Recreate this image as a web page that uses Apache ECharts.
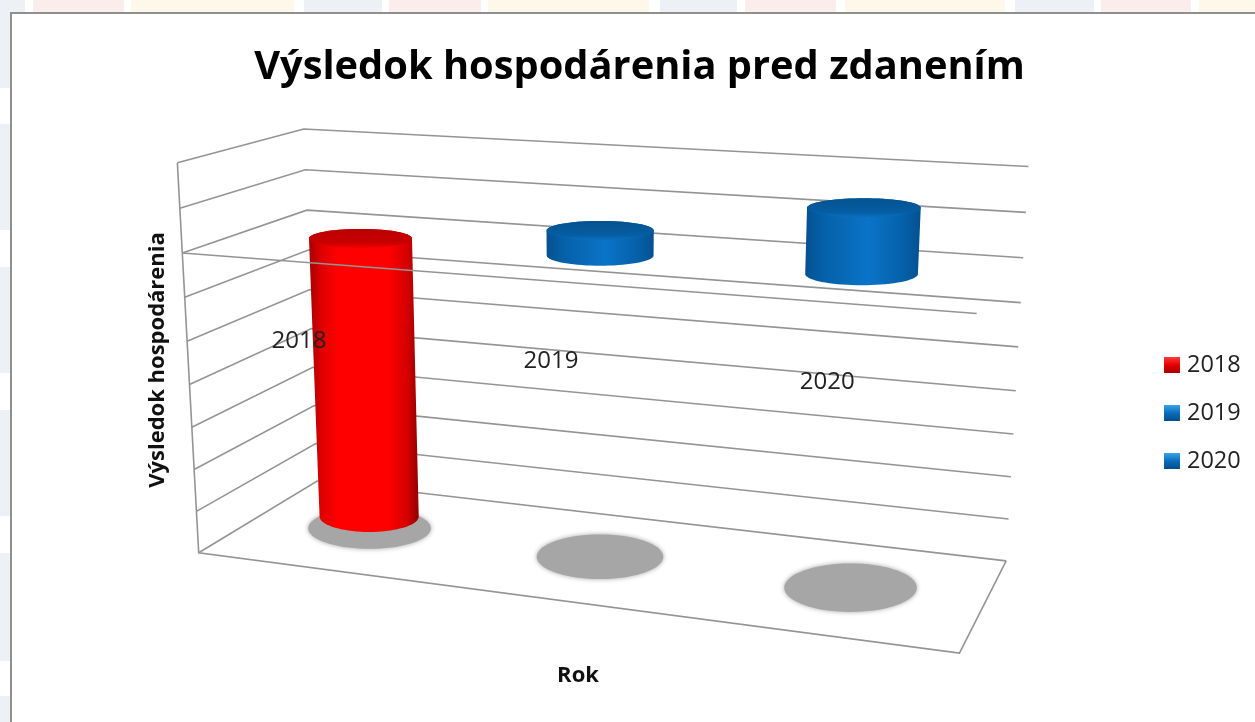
<!DOCTYPE html>
<html><head><meta charset="utf-8">
<style>
html,body{margin:0;padding:0;width:1255px;height:722px;overflow:hidden;background:#fff}
#top{position:absolute;left:0;top:0;width:1255px;height:13px;background:linear-gradient(90deg,#edf1f5 0,#edf1f5 25px,#fff 25px,#fff 33px,#fceded 33px,#fceded 124px,#fff 124px,#fff 131px,#fdf8ea 131px,#fdf8ea 294px,#fff 294px,#fff 304px,#edf1f5 304px,#edf1f5 382px,#fff 382px,#fff 389px,#fceded 389px,#fceded 481px,#fff 481px,#fff 488px,#fdf8ea 488px,#fdf8ea 649px,#fff 649px,#fff 660px,#edf1f5 660px,#edf1f5 737px,#fff 737px,#fff 745px,#fceded 745px,#fceded 836px,#fff 836px,#fff 845px,#fdf8ea 845px,#fdf8ea 1005px,#fff 1005px,#fff 1015px,#edf1f5 1015px,#edf1f5 1094px,#fff 1094px,#fff 1101px,#fceded 1101px,#fceded 1191px,#fff 1191px,#fff 1199px,#fdf8ea 1199px,#fdf8ea 1255px)}
#left{position:absolute;left:0;top:0;width:10px;height:722px;background:linear-gradient(180deg,#edf1f5 0,#edf1f5 88px,#fff 88px,#fff 124px,#edf1f5 124px,#edf1f5 230px,#fff 230px,#fff 267px,#edf1f5 267px,#edf1f5 373px,#fff 373px,#fff 410px,#edf1f5 410px,#edf1f5 516px,#fff 516px,#fff 553px,#edf1f5 553px,#edf1f5 661px,#fff 661px,#fff 696px,#edf1f5 696px,#edf1f5 722px)}
#card{position:absolute;left:10px;top:12px;width:1245px;height:710px;box-sizing:border-box;background:#fff;border-left:2.5px solid #8f8f8f;border-top:2.5px solid #8f8f8f}
#chart{position:absolute;left:0;top:0;width:1255px;height:722px}
</style></head><body>
<div id="top"></div><div id="left"></div><div id="card"></div>
<div id="chart"></div>
<script src="https://cdn.jsdelivr.net/npm/echarts@6/dist/echarts.min.js"></script>
<script>
// ---- data (value unit = one gridline step; the source prints no tick labels)
const categories = ['2018', '2019', '2020'];
const values2018 = [-6.7];
const values2019 = [0.55];
const values2020 = [1.4];
const valueTicks = [-7, -6, -5, -4, -3, -2, -1, 0, 1, 2];
const titleText = 'Výsledok hospodárenia pred zdanením';
const yAxisTitle = 'Výsledok hospodárenia';
const xAxisTitle = 'Rok';

// ---- view: calibration of the Excel-style 3D box. [u, v, w] of the plot cube -> screen pixel.
const calibration = [
  [0,0,1, 177,163],[0,0,7/9, 184,253],[0,0,4/9, 189,384],[0,0,0, 198,553],
  [0,1,1, 303.3,129],[0,1,8/9, 305,170],[0,1,7/9, 306.7,210],[0,1,0, 318,481],
  [1,1,1, 1028.3,166.7],[1,1,8/9, 1026,212.3],[1,1,7/9, 1023.3,257.7],[1,1,6/9, 1020.7,302.7],
  [1,1,5/9, 1018.3,346.7],[1,1,4/9, 1016,390.7],[1,1,3/9, 1013.3,434.3],[1,1,2/9, 1011,476.7],
  [1,1,1/9, 1008.3,519],[1,1,0, 1006,560.7],
  [1,0,7/9, 976.7,313.3],[1,0,0, 959.3,653.3]
];
function makeProjection(pts) {
  const n = 11, S = 1000;
  const M = Array.from({length: n}, () => new Array(n + 1).fill(0));
  const add = (row, rhs) => {
    for (let i = 0; i < n; i++) { for (let j = 0; j < n; j++) M[i][j] += row[i] * row[j]; M[i][n] += row[i] * rhs; }
  };
  for (const [u, v, w, px, py] of pts) {
    const x = px / S, y = py / S;
    add([1, u, v, w, 0, 0, 0, 0, -x * u, -x * v, -x * w], x);
    add([0, 0, 0, 0, 1, u, v, w, -y * u, -y * v, -y * w], y);
  }
  for (let c = 0; c < n; c++) {
    let best = c;
    for (let r = c + 1; r < n; r++) if (Math.abs(M[r][c]) > Math.abs(M[best][c])) best = r;
    [M[c], M[best]] = [M[best], M[c]];
    for (let r = 0; r < n; r++) {
      if (r === c) continue;
      const f = M[r][c] / M[c][c];
      for (let k = c; k <= n; k++) M[r][k] -= f * M[c][k];
    }
  }
  const h = M.map((row, i) => row[n] / row[i]);
  return (u, v, w) => {
    const d = 1 + h[8] * u + h[9] * v + h[10] * w;
    return [S * (h[0] + h[1] * u + h[2] * v + h[3] * w) / d, S * (h[4] + h[5] * u + h[6] * v + h[7] * w) / d];
  };
}
const project = makeProjection(calibration);
const GRID = {left: 197, top: 163, width: 762, height: 394};
const cyl = {ru: 0.067, rv: 0.2, su: 0.082, sv: 0.26};

function norm(api, params, cat, val) {
  const c = api.coord([cat, val]);
  const s = params.coordSys;
  return [(c[0] - s.x) / s.width, (s.y + s.height - c[1]) / s.height];
}
// level ellipse: centre and half-extents come from the projected cube position
function ring(uc, vc, w, ru, rv) {
  const c = project(uc, vc, w);
  const ue = [project(uc + ru, vc, w), project(uc - ru, vc, w)];
  const ve = [project(uc, vc + rv, w), project(uc, vc - rv, w)];
  const a = Math.hypot(ue[0][0] - ue[1][0], ve[0][0] - ve[1][0]) / 2;
  const b = Math.hypot(ue[0][1] - ue[1][1], ve[0][1] - ve[1][1]) / 2;
  const pts = [];
  for (let i = 0; i < 72; i++) {
    const t = i / 72 * Math.PI * 2;
    pts.push([c[0] + a * Math.cos(t), c[1] + b * Math.sin(t)]);
  }
  return pts;
}
function hull(points) {
  const P = points.slice().sort((a, b) => a[0] - b[0] || a[1] - b[1]);
  const cross = (o, a, b) => (a[0] - o[0]) * (b[1] - o[1]) - (a[1] - o[1]) * (b[0] - o[0]);
  const lo = [], up = [];
  for (const p of P) { while (lo.length > 1 && cross(lo[lo.length - 2], lo[lo.length - 1], p) <= 0) lo.pop(); lo.push(p); }
  for (const p of P.slice().reverse()) { while (up.length > 1 && cross(up[up.length - 2], up[up.length - 1], p) <= 0) up.pop(); up.push(p); }
  return lo.slice(0, -1).concat(up.slice(0, -1));
}
const grad = (x0, y0, x1, y1, stops) => new echarts.graphic.LinearGradient(x0, y0, x1, y1,
  stops.map(s => ({offset: s[0], color: s[1]})));

const redPal = {body: [[0, '#a80000'], [0.12, '#e00000'], [0.27, '#ff0000'], [0.72, '#ff0000'], [0.9, '#d40000'], [1, '#900000']],
  top: [[0, '#bb0000'], [0.72, '#c80000'], [1, '#f00000']], swatch: [[0, '#ff3b3b'], [0.5, '#e60000'], [1, '#a80000']]};
const bluePal = {body: [[0, '#05508f'], [0.15, '#0560a8'], [0.55, '#0a74c8'], [0.85, '#0560a8'], [1, '#05508f']],
  top: [[0, '#04528f'], [0.72, '#055da3'], [1, '#0a70c0']], swatch: [[0, '#35a5ec'], [0.5, '#0a6cbc'], [1, '#044f8c']]};
const palette = {'2018': redPal, '2019': bluePal, '2020': bluePal};

function renderCylinder(name) {
  return function (params, api) {
    const cat = api.value(0), val = api.value(1);
    const [u, wTop] = norm(api, params, cat, val);
    const [, wZero] = norm(api, params, cat, 0);
    const [, wFloor] = norm(api, params, cat, valueTicks[0]);
    const pal = palette[name];
    const hi = Math.max(wTop, wZero), lo = Math.min(wTop, wZero);
    const topRing = ring(u, 0.5, hi, cyl.ru, cyl.rv);
    const botRing = ring(u, 0.5, lo, cyl.ru, cyl.rv);
    const shadow = ring(u, 0.5, wFloor, cyl.su, cyl.sv);
    return {type: 'group', children: [
      {type: 'polygon', shape: {points: shadow},
       style: {fill: '#a6a6a6', shadowBlur: 5, shadowColor: '#a6a6a6'}},
      {type: 'polygon', shape: {points: hull(topRing.concat(botRing))},
       style: {fill: grad(0, 0, 1, 0, pal.body)}},
      {type: 'polygon', shape: {points: topRing},
       style: {fill: grad(0, 0, 0, 1, pal.top)}}
    ]};
  };
}
function cylinderSeries(name, values, idx) {
  return {
    name, type: 'custom', coordinateSystem: 'cartesian2d', z: 3 + idx,
    itemStyle: {color: grad(0, 0, 0, 1, palette[name].swatch)},
    renderItem: renderCylinder(name), silent: true,
    data: values.map(v => [idx, v])
  };
}
const lineStyle = {stroke: '#949494', lineWidth: 1.6, fill: null};

const option = {
  animation: false,
  backgroundColor: 'transparent',
  title: {text: titleText, left: 634.5, top: 43, textAlign: 'center',
    textStyle: {fontFamily: 'Open Sans', fontWeight: 'bold', fontSize: 39.8, color: '#000'}},
  legend: {
    orient: 'vertical', left: 1159, top: 348, itemWidth: 16, itemHeight: 16, itemGap: 24,
    icon: 'rect', data: categories, selectedMode: false,
    textStyle: {fontFamily: 'Open Sans', fontSize: 23.5, color: '#222', padding: [0, 0, 0, 2]}
  },
  grid: GRID,
  xAxis: {type: 'category', data: categories, name: xAxisTitle, nameLocation: 'middle', nameGap: 108,
    nameTextStyle: {fontFamily: 'Open Sans', fontWeight: 'bold', fontSize: 22, color: '#111'},
    axisLine: {show: false}, axisTick: {show: false}, axisLabel: {show: false}, splitLine: {show: false}},
  yAxis: {type: 'value', min: valueTicks[0], max: valueTicks[valueTicks.length - 1], interval: 1,
    name: yAxisTitle, nameLocation: 'middle', nameGap: 28,
    nameTextStyle: {fontFamily: 'Open Sans', fontWeight: 'bold', fontSize: 22, color: '#111'},
    axisLine: {show: false}, axisTick: {show: false}, axisLabel: {show: false}, splitLine: {show: false}},
  series: [
    {type: 'custom', name: 'gridlines', z: 1, silent: true, data: valueTicks.map(t => [0, t]),
     renderItem(params, api) {
       const [, w] = norm(api, params, 0, api.value(1));
       return {type: 'polyline', shape: {points: [project(0, 0, w), project(0, 1, w), project(1, 1, w)]}, style: lineStyle};
     }},
    {type: 'custom', name: 'frame', z: 2, silent: true, data: [[0, valueTicks[0]]],
     renderItem(params, api) {
       const [, w0] = norm(api, params, 0, valueTicks[0]);
       const [, w1] = norm(api, params, 0, valueTicks[valueTicks.length - 1]);
       return {type: 'group', children: [
         {type: 'polyline', shape: {points: [project(0, 0, w1), project(0, 0, w0), project(1, 0, w0), project(1, 1, w0)]}, style: lineStyle}
       ]};
     }},
    cylinderSeries('2018', values2018, 0),
    cylinderSeries('2019', values2019, 1),
    cylinderSeries('2020', values2020, 2),
    {type: 'custom', name: 'zeroLine', z: 8, silent: true, data: [[0, 0]],
     renderItem(params, api) {
       const [, w] = norm(api, params, 0, 0);
       return {type: 'polyline', shape: {points: [project(0, 0, w), project(1, 0, w)]}, style: lineStyle};
     }},
    {type: 'custom', name: 'categoryLabels', z: 9, silent: true, data: categories.map((c, i) => [i, 0]),
     renderItem(params, api) {
       const i = api.value(0);
       const [u, w] = norm(api, params, i, 0);
       const p = project(u, 0, w);
       return {type: 'text', style: {x: p[0] - 1, y: p[1] + 79.5, text: categories[i], textAlign: 'center', textVerticalAlign: 'middle',
         fontFamily: 'Open Sans', fontSize: 24, fill: '#222'}};
     }}
  ]
};
const chart = echarts.init(document.getElementById('chart'), null, {renderer: 'canvas'});
chart.setOption(option);
</script>
</body></html>
